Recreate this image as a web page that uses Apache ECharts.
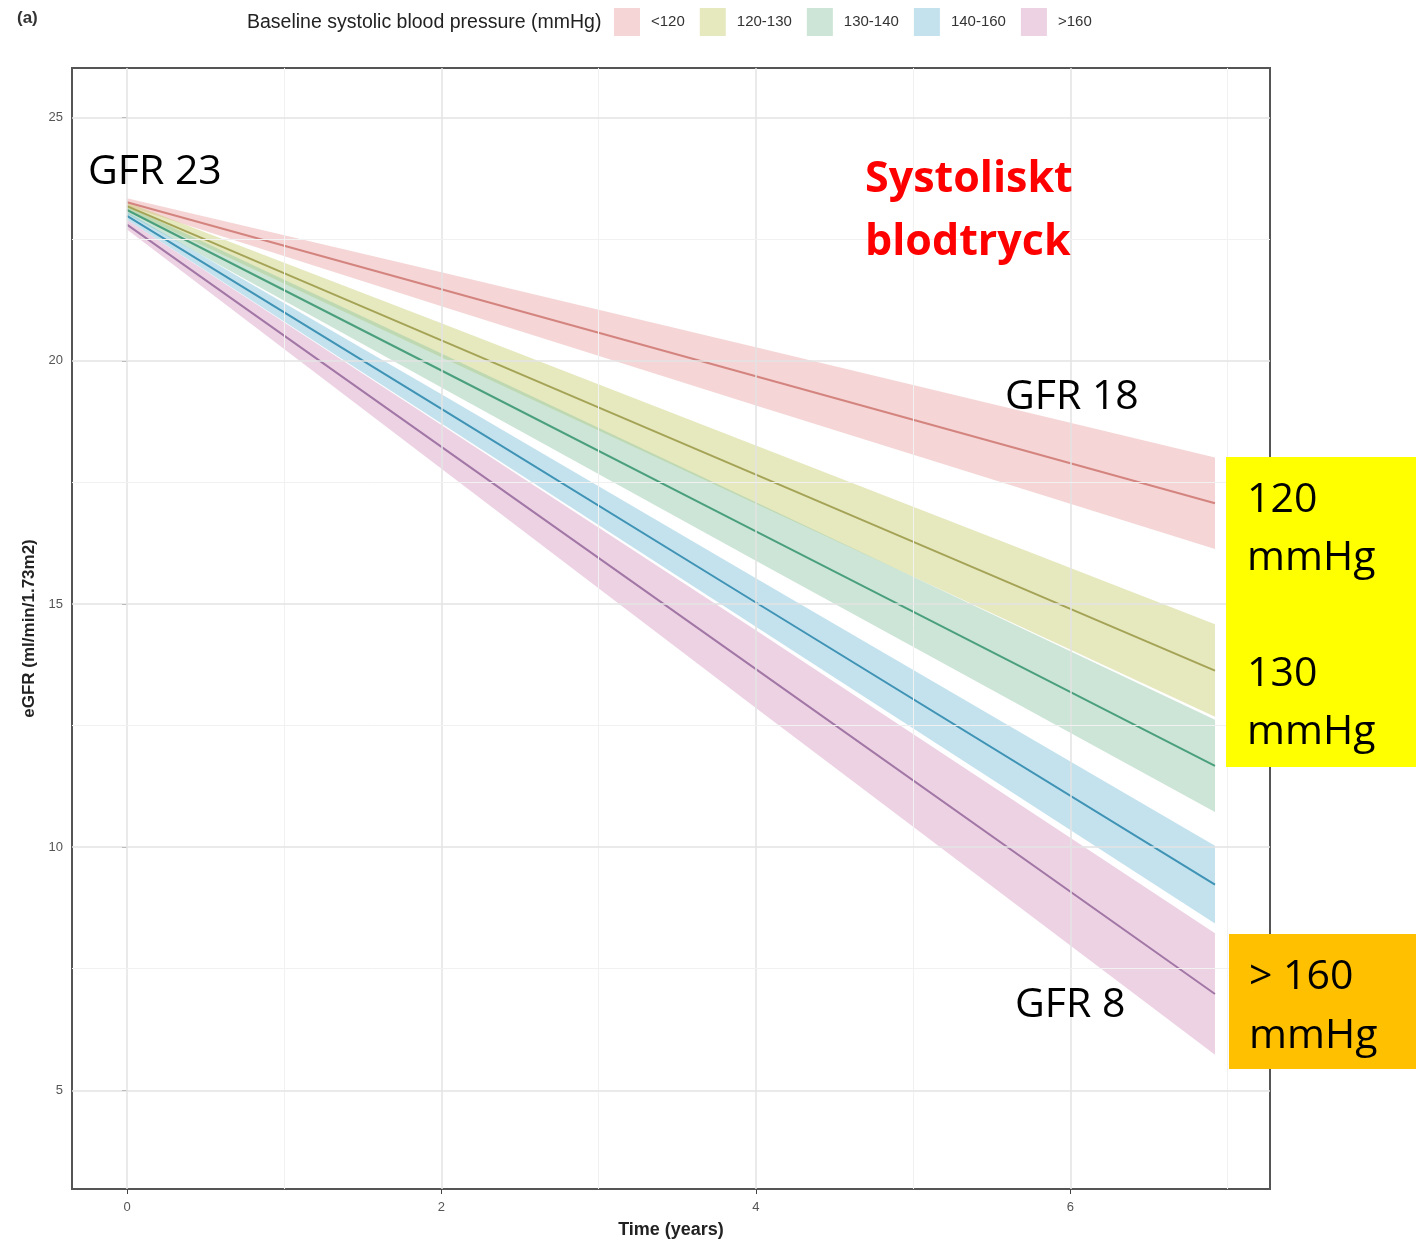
<!DOCTYPE html>
<html>
<head>
<meta charset="utf-8">
<script src="https://cdn.jsdelivr.net/npm/echarts@6/dist/echarts.min.js"></script>
<style>
  html, body { margin: 0; padding: 0; background: #fff; width: 100%; height: 100%; overflow: hidden; }
  #chart { width: 1416px; height: 1244px; }
</style>
</head>
<body>
<div id="chart"></div>
<script>
// groups of baseline systolic pressure
const groups = ['<120', '120-130', '130-140', '140-160', '>160']
// time points (years) where the fitted lines / bands were read
const times = [0, 2, 4, 6.92]

// fitted eGFR per group
const estimate = [
  [23.26, 21.47, 19.68, 17.07],
  [23.18, 20.42, 17.66, 13.63],
  [23.10, 19.80, 16.49, 11.67],
  [22.98, 19.01, 15.03, 9.23],
  [22.80, 18.23, 13.66, 6.98],
]
// confidence band, upper edge
const upper = [
  [23.34, 21.82, 20.28, 18.01],
  [23.26, 20.77, 18.26, 14.58],
  [23.18, 20.15, 17.09, 12.62],
  [23.06, 19.31, 15.53, 10.03],
  [22.90, 18.68, 14.46, 8.23],
]
// confidence band, lower edge
const lower = [
  [23.18, 21.12, 19.08, 16.13],
  [23.10, 20.07, 17.06, 12.68],
  [23.02, 19.45, 15.89, 10.72],
  [22.90, 18.71, 14.53, 8.43],
  [22.70, 17.78, 12.86, 5.73],
]

// axis ticks and grid
const xTicks = [0, 2, 4, 6]
const xMinor = [1, 3, 5, 7]
const yTicks = [5, 10, 15, 20, 25]
const yMinor = [7.5, 12.5, 17.5, 22.5]

const bandColors = [
  'rgba(233,162,162,0.45)',
  'rgba(199,204,111,0.45)',
  'rgba(142,197,164,0.45)',
  'rgba(122,191,217,0.45)',
  'rgba(215,155,195,0.45)',
]
const lineColors = ['#d4847f', '#a4a356', '#4a9f7d', '#3f93b5', '#a277a6']

const FONT = '"Liberation Sans", Arial, sans-serif'

const chart = echarts.init(document.getElementById('chart'))

// grid lines as mark lines (axis min is not a tick multiple)
const gridLines = []
xTicks.forEach(v => gridLines.push({ xAxis: v, lineStyle: { color: '#e3e3e3', width: 1.5 } }))
xMinor.forEach(v => gridLines.push({ xAxis: v, lineStyle: { color: '#f1f1f1', width: 1 } }))
yTicks.forEach(v => gridLines.push({ yAxis: v, lineStyle: { color: '#e3e3e3', width: 1.5 } }))
yMinor.forEach(v => gridLines.push({ yAxis: v, lineStyle: { color: '#f1f1f1', width: 1 } }))

const series = [{
  name: 'grid',
  type: 'line',
  data: [],
  z: 1,
  silent: true,
  markLine: {
    silent: true,
    symbol: 'none',
    label: { show: false },
    lineStyle: { type: 'solid' },
    data: gridLines,
  },
}]

// bands
groups.forEach((g, i) => {
  series.push({
    name: g,
    type: 'custom',
    z: 2,
    silent: true,
    itemStyle: { color: bandColors[i] },
    data: times.map((t, k) => [t, lower[i][k], upper[i][k]]),
    encode: { x: 0, y: [1, 2] },
    renderItem: (params, api) => {
      if (params.dataIndex !== 0) return null
      const top = times.map((t, k) => api.coord([t, upper[i][k]]))
      const bot = times.map((t, k) => api.coord([t, lower[i][k]])).reverse()
      return {
        type: 'polygon',
        shape: { points: top.concat(bot) },
        style: { fill: bandColors[i] },
      }
    },
  })
})

// fitted lines
groups.forEach((g, i) => {
  series.push({
    name: g + ' fit',
    type: 'line',
    z: 3,
    silent: true,
    showSymbol: false,
    lineStyle: { color: lineColors[i], width: 2 },
    itemStyle: { color: lineColors[i] },
    data: times.map((t, k) => [t, estimate[i][k]]),
  })
})

const bigText = '41px "Open Sans", "Noto Sans", sans-serif'

chart.setOption({
  animation: false,
  backgroundColor: '#fff',
  title: [
    { text: '(a)', left: 17, top: 10, padding: 0, textStyle: { fontFamily: FONT, fontSize: 17, fontWeight: 'bold', color: '#333' } },
    { text: 'Baseline systolic blood pressure (mmHg)', left: 247, top: 13, padding: 0, textStyle: { fontFamily: FONT, fontSize: 19.5, fontWeight: 'normal', color: '#222' } },
  ],
  legend: {
    data: groups.map((g, i) => ({ name: g, icon: 'rect', itemStyle: { color: bandColors[i] } })),
    left: 609,
    top: 3,
    itemWidth: 26,
    itemHeight: 28,
    itemGap: 15,
    selectedMode: false,
    textStyle: { fontFamily: FONT, fontSize: 15, color: '#333', padding: [0, 0, 0, 6] },
  },
  grid: {
    left: 72, width: 1198, top: 68, height: 1126,
    show: true, borderColor: '#555', borderWidth: 2, backgroundColor: '#fff',
  },
  xAxis: {
    type: 'value',
    min: -0.35,
    max: 7.27,
    name: 'Time (years)',
    nameLocation: 'middle',
    nameGap: 32,
    nameTextStyle: { fontFamily: FONT, fontSize: 18, fontWeight: 'bold', color: '#222' },
    axisLine: { show: false },
    axisTick: { show: true, customValues: xTicks, length: 5, lineStyle: { color: '#444' } },
    axisLabel: { customValues: xTicks, fontFamily: FONT, fontSize: 13, color: '#555', margin: 12 },
    splitLine: { show: false },
  },
  yAxis: {
    type: 'value',
    min: 2.97,
    max: 26.02,
    name: 'eGFR (ml/min/1.73m2)',
    nameLocation: 'middle',
    nameGap: 30,
    nameTextStyle: { fontFamily: FONT, fontSize: 17, fontWeight: 'bold', color: '#222' },
    axisLine: { show: false },
    axisTick: { show: true, customValues: yTicks, length: 5, lineStyle: { color: '#444' } },
    axisLabel: { customValues: yTicks, fontFamily: FONT, fontSize: 13, color: '#555', margin: 9 },
    splitLine: { show: false },
  },
  series: series,
  graphic: [
    { type: 'text', left: 88, top: 152, z: 100, style: { text: 'GFR 23', font: bigText, fill: '#000' } },
    { type: 'text', left: 1005, top: 377, z: 100, style: { text: 'GFR 18', font: bigText, fill: '#000' } },
    { type: 'text', left: 1015, top: 985, z: 100, style: { text: 'GFR 8', font: bigText, fill: '#000' } },
    {
      type: 'text', left: 865, top: 148, z: 100,
      style: { text: 'Systoliskt\nblodtryck', font: 'bold 43px "Open Sans", "Noto Sans", sans-serif', fill: '#ff0000', lineHeight: 63 },
    },
    { type: 'rect', left: 1226, top: 457, z: 99, shape: { width: 190, height: 310 }, style: { fill: '#ffff00' } },
    {
      type: 'text', left: 1247, top: 471, z: 100,
      style: { text: '120\nmmHg\n\n130\nmmHg', font: bigText, fill: '#000', lineHeight: 58 },
    },
    { type: 'rect', left: 1229, top: 934, z: 99, shape: { width: 187, height: 135 }, style: { fill: '#ffc000' } },
    {
      type: 'text', left: 1249, top: 948, z: 100,
      style: { text: '> 160\nmmHg', font: bigText, fill: '#000', lineHeight: 59 },
    },
  ],
})

window.addEventListener('resize', () => chart.resize())
</script>
</body>
</html>
